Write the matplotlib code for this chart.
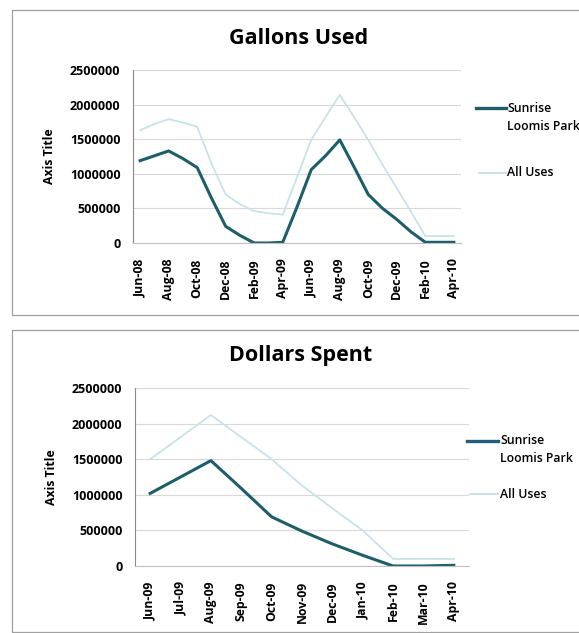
import numpy as np
import matplotlib
matplotlib.use("Agg")
import matplotlib.pyplot as plt
from matplotlib.patches import Rectangle
from matplotlib.lines import Line2D

plt.rcParams['font.family'] = ['Open Sans', 'DejaVu Sans']

# Gallons Used, monthly Jun-08 .. Apr-10
months_top = ['Jun-08', 'Jul-08', 'Aug-08', 'Sep-08', 'Oct-08', 'Nov-08', 'Dec-08',
              'Jan-09', 'Feb-09', 'Mar-09', 'Apr-09', 'May-09', 'Jun-09', 'Jul-09',
              'Aug-09', 'Sep-09', 'Oct-09', 'Nov-09', 'Dec-09', 'Jan-10', 'Feb-10',
              'Mar-10', 'Apr-10']
gallons_sunrise = [1190000, 1260000, 1330000, 1220000, 1090000, 650000, 240000,
                   110000, 0, 0, 10000, 520000, 1060000, 1260000,
                   1490000, 1100000, 700000, 500000, 340000, 160000, 10000,
                   10000, 10000]
gallons_all = [1630000, 1720000, 1790000, 1740000, 1680000, 1150000, 700000,
               560000, 460000, 430000, 410000, 950000, 1490000, 1820000,
               2140000, 1820000, 1490000, 1130000, 790000, 450000, 100000,
               100000, 100000]

# Dollars Spent, monthly Jun-09 .. Apr-10
months_bot = ['Jun-09', 'Jul-09', 'Aug-09', 'Sep-09', 'Oct-09', 'Nov-09', 'Dec-09',
              'Jan-10', 'Feb-10', 'Mar-10', 'Apr-10']
dollars_sunrise = [1020000, 1250000, 1480000, 1090000, 690000, 490000, 310000,
                   150000, 0, 0, 10000]
dollars_all = [1500000, 1810000, 2120000, 1810000, 1500000, 1130000, 810000,
               500000, 100000, 100000, 100000]

yticks = [0, 500000, 1000000, 1500000, 2000000, 2500000]

dark = '#1d5e69'
dark2 = '#1f5f7a'
light = '#c9e2ea'
gridc = '#d9d9d9'

W, H = 579, 633
fig = plt.figure(figsize=(W / 100, H / 100), dpi=100)


def fx(px):
    return px / W


def fy(py):
    return 1 - py / H


# panel frames
fig.patches.append(Rectangle((fx(12), fy(315)), 0.99, (315 - 10) / H,
                             transform=fig.transFigure, fill=False,
                             edgecolor='#a0a0a0', lw=0.9))
fig.patches.append(Rectangle((fx(12), fy(632)), 0.99, (632 - 330) / H,
                             transform=fig.transFigure, fill=False,
                             edgecolor='#a0a0a0', lw=0.9))


def draw(ax, labels, s1, s2, step):
    x = np.arange(len(labels))
    ax.plot(x, s2, color=light, lw=1.3)
    ax.plot(x, s1, color=dark, lw=2.2)
    ax.set_xlim(-0.5, len(labels) - 0.5)
    ax.set_ylim(0, 2500000)
    ax.set_yticks(yticks)
    ax.set_yticklabels([str(v) for v in yticks], fontsize=9, fontweight='bold')
    ax.set_xticks(x[::step])
    ax.set_xticklabels(labels[::step], rotation=90, fontsize=8.8, fontweight='bold')
    ax.tick_params(axis='y', length=0, pad=9)
    ax.tick_params(axis='x', length=0, pad=11)
    ax.grid(axis='y', color=gridc, lw=0.8)
    ax.set_axisbelow(True)
    for s in ['top', 'right']:
        ax.spines[s].set_visible(False)
    ax.spines['left'].set_color('#8a8a8a')
    ax.spines['bottom'].set_color('#c0c0c0')
    ax.set_ylabel('Axis Title', fontsize=8.8, fontweight='bold', labelpad=10)


def legend(x0, x1, xt, y1, y2, y3, c1):
    fig.add_artist(Line2D([fx(x0), fx(x1)], [fy(y1), fy(y1)], color=c1, lw=2.4))
    fig.add_artist(Line2D([fx(x0 + 3), fx(x1)], [fy(y3), fy(y3)], color=light, lw=1.4))
    fig.text(fx(xt), fy(y1), 'Sunrise', fontsize=8.8, fontweight='semibold', va='center')
    fig.text(fx(xt), fy(y2), 'Loomis Park', fontsize=8.8, fontweight='semibold', va='center')
    fig.text(fx(xt), fy(y3), 'All Uses', fontsize=8.8, fontweight='semibold', va='center')


ax1 = fig.add_axes([fx(133), fy(243), (461 - 133) / W, (243 - 70) / H])
draw(ax1, months_top, gallons_sunrise, gallons_all, 2)
fig.text(fx(299), fy(38), 'Gallons Used', fontsize=15.5, fontweight='bold',
         ha='center', va='center')
legend(476, 506, 507, 108, 126, 173, dark)

ax2 = fig.add_axes([fx(135), fy(566), (469 - 135) / W, (566 - 388) / H])
draw(ax2, months_bot, dollars_sunrise, dollars_all, 1)
fig.text(fx(301), fy(356), 'Dollars Spent', fontsize=15.5, fontweight='bold',
         ha='center', va='center')
legend(467, 498, 500, 441, 459, 494, dark2)

fig.savefig('out.png', dpi=100)
